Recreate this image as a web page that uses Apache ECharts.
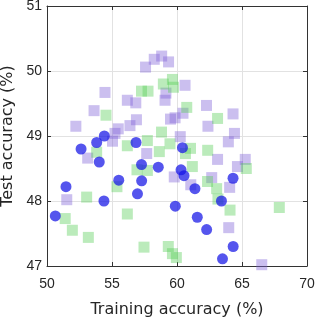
<!DOCTYPE html>
<html>
<head>
<meta charset="utf-8">
<script src="https://cdn.jsdelivr.net/npm/echarts@6/dist/echarts.min.js"></script>
<style>html,body{margin:0;padding:0;background:#fff}#c{width:318px;height:324px}</style>
</head>
<body>
<div id="c"></div>
<script>
// Training accuracy (%) / Test accuracy (%) pairs
const purpleX = [57.58,58.25,58.82,59.35,54.46,56.18,56.83,59.15,59.08,60.62,53.62,52.22,55.48,55.23,56.38,56.88,59.50,59.85,60.46,62.27,64.31,62.38,64.42,60.25,63.95,55.04,53.13,57.67,63.12,65.25,64.65,59.79,62.67,61.06,64.05,51.52,63.98,66.52];
const purpleY = [50.06,50.18,50.23,50.14,49.67,49.55,49.51,49.66,49.55,49.78,49.39,49.15,49.11,49.04,49.16,49.25,49.26,49.28,49.35,49.47,49.34,49.15,49.04,48.99,48.91,48.92,48.66,48.73,48.64,48.64,48.53,48.37,48.36,48.25,48.21,48.02,47.59,47.02];
const greenX = [54.54,57.27,57.77,58.95,59.65,59.73,60.75,63.12,58.81,57.72,56.18,53.82,59.46,58.64,61.04,62.36,60.65,61.18,56.92,57.72,55.38,53.05,51.40,51.95,53.18,56.18,62.35,63.05,63.15,64.08,65.33,67.87,57.46,59.33,59.65,59.95];
const greenY = [49.32,49.69,49.69,49.80,49.87,49.75,49.44,49.27,49.06,48.93,48.85,48.75,48.88,48.76,48.81,48.78,48.73,48.53,48.48,48.47,48.22,48.06,47.73,47.55,47.44,47.80,48.30,48.19,48.03,47.86,48.50,47.90,47.29,47.30,47.19,47.13];
const blueX = [50.64,51.46,52.62,53.82,54.41,54.02,54.38,55.52,56.85,57.27,57.28,56.96,58.56,60.42,60.31,60.54,61.38,59.87,61.56,62.28,63.42,64.31,64.32,63.50];
const blueY = [47.77,48.22,48.80,48.90,49.00,48.60,48.00,48.32,48.90,48.56,48.31,48.11,48.52,48.82,48.48,48.39,48.19,47.92,47.75,47.56,48.00,48.35,47.30,47.11];
const xTicks = [50,55,60,65,70];
const yTicks = [47,48,49,50,51];
const xTitle = 'Training accuracy (%)';
const yTitle = 'Test accuracy (%)';

const zip = (a, b) => a.map((v, i) => [v, b[i]]);
const chart = echarts.init(document.getElementById('c'), null, {renderer: 'canvas'});
const lineCol = '#333333';
const tickFont = {fontFamily: 'Liberation Sans', fontSize: 14, color: '#262626'};
const titleFont = {fontFamily: 'DejaVu Sans', fontSize: 16, color: '#262626'};
const baseX = {
  type: 'value', min: xTicks[0], max: xTicks[xTicks.length-1], interval: 5
};
const baseY = {
  type: 'value', min: yTicks[0], max: yTicks[yTicks.length-1], interval: 1
};
chart.setOption({
  animation: false,
  grid: {left: 47, right: 11, top: 6, bottom: 58, containLabel: false, outerBoundsMode: 'none'},
  xAxis: [
    Object.assign({}, baseX, {
      position: 'bottom',
      name: xTitle, nameLocation: 'middle', nameGap: 36, nameTextStyle: titleFont,
      axisLine: {show: true, lineStyle: {color: lineCol, width: 1}},
      axisTick: {show: true, inside: true, length: 4, lineStyle: {color: lineCol}},
      axisLabel: Object.assign({margin: 11}, tickFont),
      splitLine: {show: true, lineStyle: {color: '#e2e2e2', width: 1}}
    }),
    Object.assign({}, baseX, {
      position: 'top',
      axisLine: {show: true, lineStyle: {color: lineCol, width: 1}},
      axisTick: {show: true, inside: true, length: 4, lineStyle: {color: lineCol}},
      axisLabel: {show: false},
      splitLine: {show: false}
    })
  ],
  yAxis: [
    Object.assign({}, baseY, {
      position: 'left',
      name: yTitle, nameLocation: 'middle', nameGap: 29, nameTextStyle: titleFont,
      axisLine: {show: true, lineStyle: {color: lineCol, width: 1}},
      axisTick: {show: true, inside: true, length: 4, lineStyle: {color: lineCol}},
      axisLabel: Object.assign({margin: 5}, tickFont),
      splitLine: {show: true, lineStyle: {color: '#e2e2e2', width: 1}}
    }),
    Object.assign({}, baseY, {
      position: 'right',
      axisLine: {show: true, lineStyle: {color: lineCol, width: 1}},
      axisTick: {show: true, inside: true, length: 4, lineStyle: {color: lineCol}},
      axisLabel: {show: false},
      splitLine: {show: false}
    })
  ],
  series: [
    {type: 'scatter', symbol: 'rect', symbolSize: 11, data: zip(purpleX, purpleY),
     itemStyle: {color: 'rgba(125,95,215,0.5)'}, z: 2},
    {type: 'scatter', symbol: 'rect', symbolSize: 11, data: zip(greenX, greenY),
     itemStyle: {color: 'rgba(85,205,85,0.5)'}, z: 3},
    {type: 'scatter', symbol: 'circle', symbolSize: 11, data: zip(blueX, blueY),
     itemStyle: {color: 'rgba(20,20,230,0.9)'}, z: 4}
  ]
});
</script>
</body>
</html>
